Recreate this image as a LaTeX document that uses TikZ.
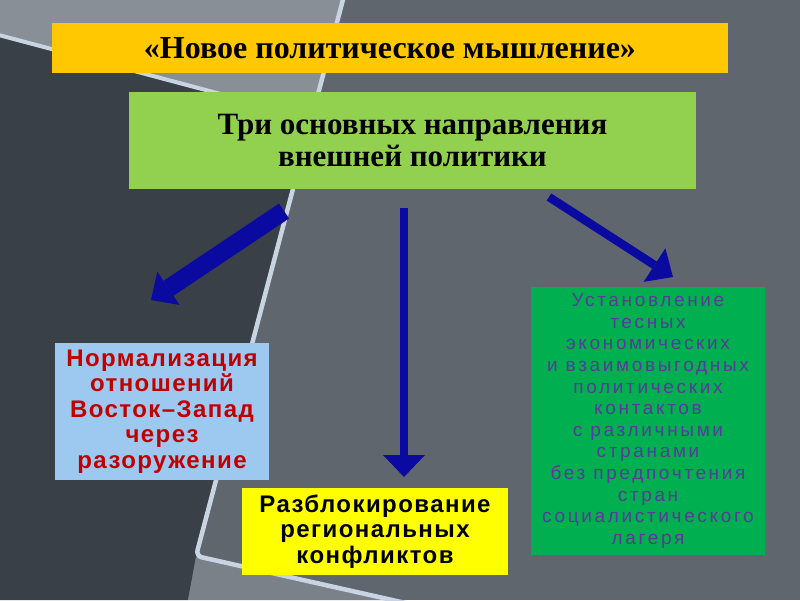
\documentclass[tikz,border=0pt]{standalone}
\usepackage{fontspec}
\setmainfont{Liberation Serif}
\newfontfamily\sansbf[LetterSpace=6]{Liberation Sans Bold}
\newfontfamily\sanssp[LetterSpace=14]{Liberation Sans}
\usetikzlibrary{arrows.meta}
\definecolor{bgmain}{RGB}{95,102,110}
\definecolor{bglight}{RGB}{136,143,151}
\definecolor{bgdark}{RGB}{58,64,72}
\definecolor{bgmid}{RGB}{122,129,137}
\definecolor{bgline}{RGB}{200,212,225}
\definecolor{titleyellow}{RGB}{255,200,0}
\definecolor{lightgreen}{RGB}{146,208,80}
\definecolor{lightblue}{RGB}{157,200,240}
\definecolor{darkred}{RGB}{192,0,0}
\definecolor{brightyellow}{RGB}{255,255,0}
\definecolor{midgreen}{RGB}{0,176,80}
\definecolor{purpletext}{RGB}{88,58,152}
\definecolor{arrowblue}{RGB}{10,10,160}
\tikzset{
  box/.style={rectangle, inner sep=0pt, align=center},
  bigarrow/.style={draw=arrowblue, line cap=butt}
}
\begin{document}
\begin{tikzpicture}[x=1pt,y=-1pt]
\useasboundingbox (0,0) rectangle (800,600);
% background
\fill[bgmain] (0,0) rectangle (800,600);
\fill[bglight] (0,0) -- (343,0) -- (311,118) -- (0,35) -- cycle;
\fill[bgdark] (0,35) -- (311,118) -- (196,557) -- (188,600) -- (0,600) -- cycle;
\fill[bgmid] (196,557) -- (392,600) -- (188,600) -- cycle;
\draw[bgline, line width=4.5pt, rounded corners=6pt] (345,-8) -- (196,556) -- (410,604);
\draw[bgline, line width=4pt] (-5,34) -- (311,118);
% boxes
\node[box, fill=titleyellow, minimum width=676pt, minimum height=50pt,
      font=\fontsize{32}{33}\selectfont\bfseries] (title) at (390,48)
      {«Новое политическое мышление»};
\node[box, fill=lightgreen, minimum width=567pt, minimum height=97pt,
      font=\fontsize{31}{32}\selectfont\bfseries] (main) at (412.5,140.5)
      {Три основных направления\\внешней политики};
\node[box, fill=lightblue, minimum width=214pt, minimum height=137pt,
      text=darkred, font=\sansbf\fontsize{24}{25.5}\selectfont] (left) at (162,411.5)
      {Нормализация\\отношений\\Восток–Запад\\через\\разоружение};
\node[box, fill=brightyellow, minimum width=266pt, minimum height=87pt,
      font=\sansbf\fontsize{24}{25.5}\selectfont] (mid) at (375,531.5)
      {Разблокирование\\региональных\\конфликтов};
\node[box, fill=midgreen, minimum width=234pt, minimum height=268pt,
      text=purpletext, font=\sanssp\fontsize{19}{21.6}\selectfont] (right) at (648,421)
      {Установление\\тесных\\экономических\\и взаимовыгодных\\политических\\контактов\\с различными\\странами\\без предпочтения\\стран\\социалистического\\лагеря};
% arrows
\coordinate (la-s) at (284,211);
\coordinate (la-e) at (151,300);
\coordinate (ma-s) at (404,208);
\coordinate (ma-e) at (404,477);
\coordinate (ra-s) at (549,197);
\coordinate (ra-e) at (673,277);
\draw[bigarrow, line width=18pt, -{Triangle[length=21pt,width=40pt,line width=0pt]}] (la-s) -- (la-e);
\draw[bigarrow, line width=8pt, -{Triangle[length=22pt,width=42pt,line width=0pt]}] (ma-s) -- (ma-e);
\draw[bigarrow, line width=8.5pt, -{Triangle[length=22pt,width=40pt,line width=0pt]}] (ra-s) -- (ra-e);
\end{tikzpicture}
\end{document}
